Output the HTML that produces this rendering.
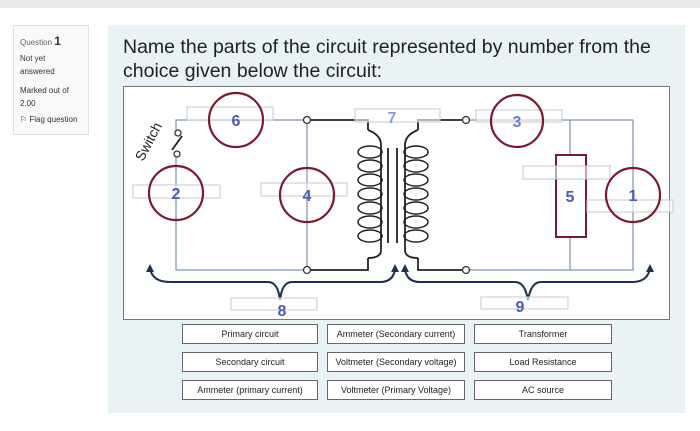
<!DOCTYPE html>
<html><head><meta charset="utf-8"><style>
body{margin:0;width:700px;height:431px;background:#fff;position:relative;overflow:hidden;font-family:"Liberation Sans",sans-serif}
.top{position:absolute;left:0;top:0;width:700px;height:8px;background:#ebe9e6}
.info{position:absolute;left:13px;top:25px;width:76px;height:110px;background:#f8f9fa;border:1px solid #dee2e6;font-size:8px;color:#333;box-sizing:border-box;padding:6px 6px}
.panel{position:absolute;left:108px;top:25px;width:577px;height:388px;background:#e7f3f5}
.q{position:absolute;left:123px;top:35px;font-size:19.5px;line-height:24px;color:#222}
.dg{position:absolute;left:123px;top:86px;width:547px;height:234px;background:#fff;border:1px solid #777;box-sizing:border-box}
.b{position:absolute;height:20px;width:136px;border:1px solid #666;background:#fff;box-sizing:border-box;font-size:9px;text-align:center;line-height:18px;color:#222}
</style></head><body>
<div class="top"></div>
<div class="info"><div style="margin-top:2px"><span style="color:#666">Question</span> <b style="font-size:12px">1</b></div>
<div style="margin-top:4px;line-height:13px">Not yet<br>answered</div>
<div style="margin-top:6px;line-height:13px">Marked out of<br>2.00</div>
<div style="margin-top:5px">⚐ Flag question</div></div>
<div class="panel"></div>
<div class="q">Name the parts of the circuit represented by number from the<br>choice given below the circuit:</div>
<div class="dg"></div>
<svg style="position:absolute;left:0;top:0" width="700" height="431" font-family="Liberation Sans,sans-serif">
<g stroke="#7f93ad" stroke-width="1.2" fill="none">
<polyline points="176,152 176,270 307,270 307,120 176,120 176,132"/>
<polyline points="466,270 633,270 633,120 470,120"/>
<line x1="570" y1="120" x2="570" y2="270"/>
</g>
<g stroke="#222" stroke-width="1.8" fill="none">
<line x1="172" y1="150" x2="182" y2="136"/>
<polyline points="311,120 368,120 368,130"/>
<polyline points="311,270 368,270 368,258"/>
<polyline points="462,120 418,120 418,130"/>
<polyline points="462,270 418,270 418,258"/>
<line x1="388" y1="148" x2="388" y2="243"/>
<line x1="397" y1="148" x2="397" y2="243"/>
<path d="M368,130 q13,5 13,15 V250 q0,8 -13,8"/>
<path d="M418,130 q-13,5 -13,15 V250 q0,8 13,8"/>
<g stroke-width="1.5">
<ellipse cx="370" cy="152" rx="12" ry="6"/><ellipse cx="370" cy="166" rx="12" ry="6"/><ellipse cx="370" cy="180" rx="12" ry="6"/><ellipse cx="370" cy="194" rx="12" ry="6"/><ellipse cx="370" cy="208" rx="12" ry="6"/><ellipse cx="370" cy="222" rx="12" ry="6"/><ellipse cx="370" cy="236" rx="12" ry="6"/>
<ellipse cx="416" cy="152" rx="12" ry="6"/><ellipse cx="416" cy="166" rx="12" ry="6"/><ellipse cx="416" cy="180" rx="12" ry="6"/><ellipse cx="416" cy="194" rx="12" ry="6"/><ellipse cx="416" cy="208" rx="12" ry="6"/><ellipse cx="416" cy="222" rx="12" ry="6"/><ellipse cx="416" cy="236" rx="12" ry="6"/>
</g>
</g>
<g fill="#fff" stroke="#333" stroke-width="1.3">
<circle cx="178" cy="133" r="3"/><circle cx="177" cy="154" r="3"/>
<circle cx="307" cy="120" r="3.5"/><circle cx="307" cy="270" r="3.5"/>
<circle cx="466" cy="120" r="3.5"/><circle cx="466" cy="270" r="3.5"/>
</g>
<text x="143" y="162" font-size="14" transform="rotate(-62 143 162)" fill="#222">Switch</text>
<g stroke="#1d2e4f" stroke-width="2" fill="none">
<path d="M150,268 Q152,282 170,282 H268 Q278,282 280,300 Q282,282 292,282 H380 Q394,282 395,268"/>
<path d="M405,268 Q406,282 420,282 H515 Q525,282 528,300 Q531,282 541,282 H632 Q648,282 650,268"/>
</g>
<g fill="#1d2e4f"><path d="M150,264 l-4,8 h8z"/><path d="M395,264 l-4,8 h8z"/><path d="M405,264 l-4,8 h8z"/><path d="M650,264 l-4,8 h8z"/></g>
<rect x="556" y="155" width="30" height="82" fill="#fff" stroke="#7a1a2e" stroke-width="2"/>
<g fill="rgba(255,255,255,0.6)" stroke="#c8c8c8" stroke-width="1">
<rect x="187" y="107" width="86" height="13"/><rect x="133" y="185" width="87" height="13"/><rect x="261" y="183" width="86" height="13"/>
<rect x="355" y="109" width="85" height="13"/><rect x="476" y="110" width="86" height="12"/><rect x="523" y="166" width="87" height="13"/>
<rect x="587" y="200" width="86" height="12"/><rect x="231" y="298" width="86" height="12"/><rect x="481" y="297" width="87" height="12"/>
</g>
<g fill="none" stroke="#7a1a2e" stroke-width="2.2">
<circle cx="236" cy="120" r="27"/><circle cx="176" cy="193" r="27"/><circle cx="307" cy="195" r="27"/><circle cx="517" cy="121" r="26"/><circle cx="633" cy="195" r="27"/>
</g>
<g fill="#4a5bb0" font-size="16" font-weight="bold" text-anchor="middle">
<text x="236" y="126">6</text><text x="176" y="199">2</text><text x="307" y="201">4</text><text x="392" y="123" fill="#8f9bd0">7</text><text x="517" y="127" fill="#6f7cc0">3</text><text x="570" y="202">5</text><text x="633" y="201">1</text><text x="282" y="316">8</text><text x="520" y="312">9</text>
</g>
</svg>
<div class="b" style="left:182px;top:324px">Primary circuit</div>
<div class="b" style="left:327px;top:324px;width:138px">Ammeter (Secondary current)</div>
<div class="b" style="left:474px;top:324px;width:138px">Transformer</div>
<div class="b" style="left:182px;top:352px">Secondary circuit</div>
<div class="b" style="left:327px;top:352px;width:138px">Voltmeter (Secondary voltage)</div>
<div class="b" style="left:474px;top:352px;width:138px">Load Resistance</div>
<div class="b" style="left:182px;top:380px">Ammeter (primary current)</div>
<div class="b" style="left:327px;top:380px;width:138px">Voltmeter (Primary Voltage)</div>
<div class="b" style="left:474px;top:380px;width:138px">AC source</div>
</body></html>
